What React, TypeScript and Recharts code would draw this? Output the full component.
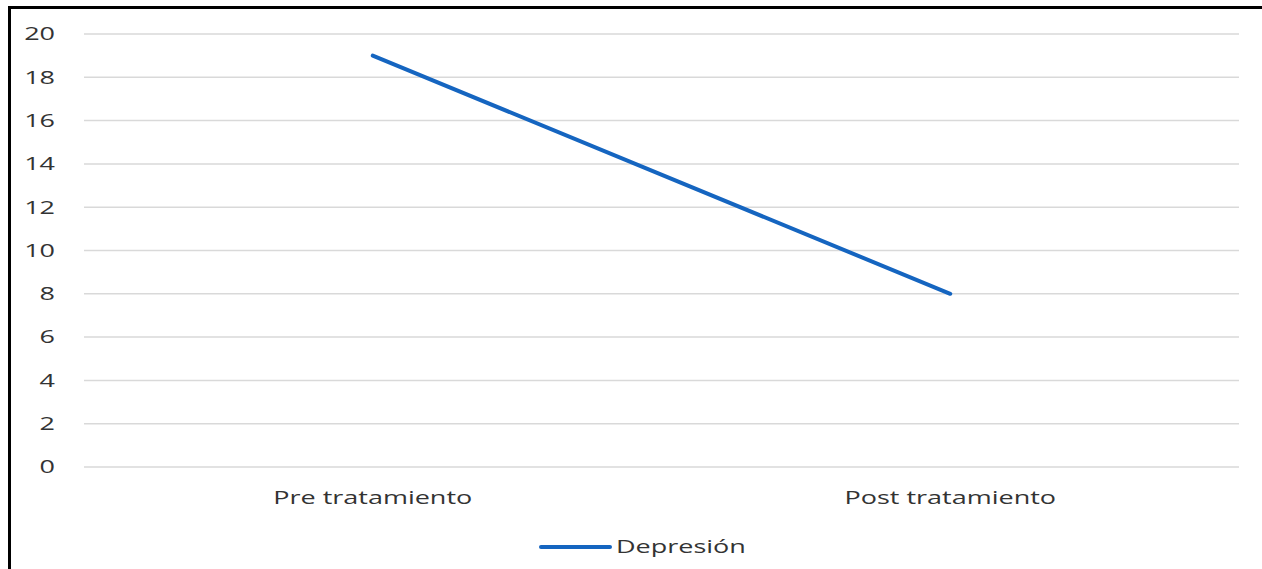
import { LineChart, Line, XAxis, YAxis, CartesianGrid, Legend } from "recharts"

// values
const categories = ["Pre tratamiento", "Post tratamiento"]
const depresion = [19, 8]
const yTicks = [0, 2, 4, 6, 8, 10, 12, 14, 16, 18, 20]
const seriesName = "Depresión"

const data = categories.map((name, i) => ({ name, depresion: depresion[i] }))

const BLUE = "#1565c0"
const TEXT = "#333333"
const FONT = "'Open Sans', sans-serif"
// the source image is stretched sideways, so text is widened to match
const STRETCH = 1.5

function YTick({ x, y, payload }: any) {
  return (
    <g transform={`translate(${x},${y})`}>
      <text
        transform={`scale(${STRETCH},1)`}
        textAnchor="end"
        dy="0.355em"
        fill={TEXT}
        fontSize={18}
        fontFamily={FONT}
      >
        {payload.value}
      </text>
    </g>
  )
}

function XTick({ x, y, payload }: any) {
  return (
    <g transform={`translate(${x},${y})`}>
      <text
        transform={`scale(${STRETCH},1)`}
        textAnchor="middle"
        dy="0.71em"
        fill={TEXT}
        fontSize={18}
        fontFamily={FONT}
      >
        {payload.value}
      </text>
    </g>
  )
}

function LegendContent() {
  return (
    <div style={{ display: "flex", justifyContent: "center", height: 30 }}>
      <svg width={210} height={30} style={{ transform: "translateX(24px)" }}>
        <line x1={2} y1={15} x2={71} y2={15} stroke={BLUE} strokeWidth={4} strokeLinecap="round" />
        <text
          transform={`translate(77,15) scale(${STRETCH},1)`}
          dy="0.355em"
          fill={TEXT}
          fontSize={18}
          fontFamily={FONT}
        >
          {seriesName}
        </text>
      </svg>
    </div>
  )
}

export default function App() {
  return (
    <div
      style={{
        position: "absolute",
        left: 0,
        top: 0,
        width: 1262,
        height: 569,
        overflow: "hidden",
        background: "#fff",
      }}
    >
      <div
        style={{
          position: "absolute",
          left: 8,
          top: 6,
          width: 1300,
          height: 600,
          borderLeft: "3px solid #000",
          borderTop: "3px solid #000",
        }}
      />
      <div style={{ position: "absolute", left: 0, top: 0 }}>
        <LineChart
          width={1262}
          height={569}
          data={data}
          margin={{ top: 34, right: 23, bottom: 7, left: 0 }}
        >
          <CartesianGrid vertical={false} stroke="#d9d9d9" strokeWidth={1.5} />
          <XAxis
            dataKey="name"
            scale="band"
            axisLine={false}
            tickLine={false}
            tickSize={0}
            tickMargin={24}
            height={65}
            tick={<XTick />}
          />
          <YAxis
            domain={[0, 20]}
            ticks={yTicks}
            axisLine={false}
            tickLine={false}
            tickSize={0}
            tickMargin={29}
            width={84}
            tick={<YTick />}
          />
          <Legend verticalAlign="bottom" content={<LegendContent />} />
          <Line
            type="linear"
            dataKey="depresion"
            name={seriesName}
            stroke={BLUE}
            strokeWidth={4}
            strokeLinecap="round"
            dot={false}
            activeDot={false}
            isAnimationActive={false}
          />
        </LineChart>
      </div>
    </div>
  )
}
